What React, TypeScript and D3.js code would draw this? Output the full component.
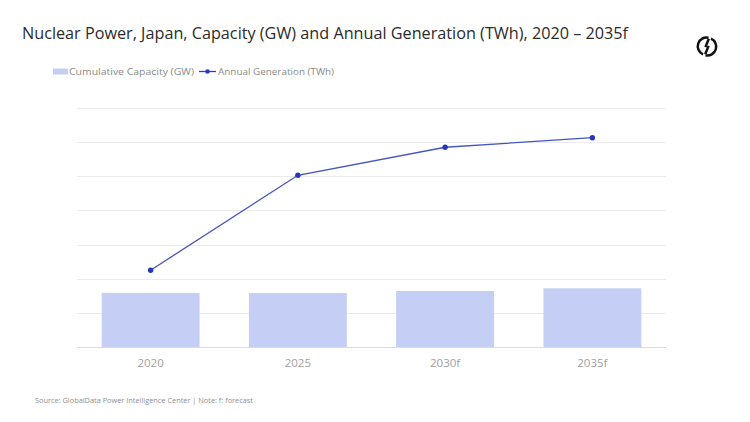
import React, { useEffect, useRef } from 'react';
import * as d3 from 'd3';

// chart data
const categories = ['2020', '2025', '2030f', '2035f'];
const capacityGW = [31.7, 31.6, 32.8, 34.4];
const generationTWh = [45.0, 100.6, 117.0, 122.6];
const yTicks = [0, 20, 40, 60, 80, 100, 120, 140];

const title = 'Nuclear Power, Japan, Capacity (GW) and Annual Generation (TWh), 2020 \u2013 2035f';
const source = 'Source: GlobalData Power Intelligence Center | Note: f: forecast';

function App() {
  const ref = useRef<SVGSVGElement>(null);

  const W = 750, H = 422;
  const m = { left: 77, right: 666, top: 108, bottom: 347 };
  const font = "'Open Sans', 'Noto Sans', sans-serif";

  useEffect(() => {
    if (!ref.current) return;
    const svg = d3.select(ref.current);
    svg.selectAll('*').remove();

    const x = d3.scaleBand<string>()
      .domain(categories)
      .range([m.left, m.right])
      .paddingInner(0.335)
      .paddingOuter(0.1675);

    const y = d3.scaleLinear()
      .domain([0, d3.max(yTicks) as number])
      .range([m.bottom, m.top]);

    // title
    svg.append('text')
      .attr('x', 22).attr('y', 39)
      .attr('font-family', font)
      .attr('font-size', 16)
      .attr('fill', '#2b2b2b')
      .attr('textLength', 606)
      .attr('lengthAdjust', 'spacingAndGlyphs')
      .text(title);

    // logo (two hooks forming a broken circle)
    const r = 8.8;
    const lg = svg.append('g')
      .attr('transform', 'translate(707,46.5)')
      .attr('fill', 'none')
      .attr('stroke', '#111')
      .attr('stroke-width', 2.5)
      .attr('stroke-linecap', 'butt');
    lg.append('path').attr('d', `M1.5,${-r} A${r},${r} 0 0 0 -4,${r * 0.89}`);
    lg.append('path').attr('d', `M1.8,${-r + 1} L-1.6,0.6`);
    lg.append('path').attr('d', `M-1.5,${r} A${r},${r} 0 0 0 4,${-r * 0.89}`);
    lg.append('path').attr('d', `M-1.8,${r - 1} L1.6,-0.6`);

    // legend
    const leg = svg.append('g').attr('font-family', font).attr('font-size', 9).attr('fill', '#8a8a8a');
    leg.append('rect').attr('x', 53).attr('y', 68.5).attr('width', 15).attr('height', 6).attr('fill', '#c5cff5');
    leg.append('text').attr('x', 69).attr('y', 74.5)
      .attr('textLength', 125).attr('lengthAdjust', 'spacingAndGlyphs')
      .text('Cumulative Capacity (GW)');
    leg.append('line').attr('x1', 199).attr('x2', 216).attr('y1', 71.5).attr('y2', 71.5)
      .attr('stroke', '#2b3cc4').attr('stroke-width', 1.3);
    leg.append('circle').attr('cx', 207.5).attr('cy', 71.5).attr('r', 2.3).attr('fill', '#2b3cc4');
    leg.append('text').attr('x', 218).attr('y', 74.5)
      .attr('textLength', 116).attr('lengthAdjust', 'spacingAndGlyphs')
      .text('Annual Generation (TWh)');

    // gridlines
    svg.append('g')
      .selectAll('line')
      .data(yTicks)
      .join('line')
      .attr('x1', m.left).attr('x2', m.right)
      .attr('y1', d => Math.round(y(d)) + 0.5)
      .attr('y2', d => Math.round(y(d)) + 0.5)
      .attr('stroke', d => d === 0 ? '#dcdcdc' : '#ebebeb')
      .attr('stroke-width', 1);

    // bars
    svg.append('g')
      .selectAll('rect')
      .data(capacityGW)
      .join('rect')
      .attr('x', (d, i) => x(categories[i]) as number)
      .attr('width', x.bandwidth())
      .attr('y', d => y(d))
      .attr('height', d => y(0) - y(d))
      .attr('fill', '#c5cff5');

    // line
    const pts: [number, number][] = generationTWh.map((d, i) => [
      (x(categories[i]) as number) + x.bandwidth() / 2, y(d)
    ]);
    svg.append('path')
      .attr('d', d3.line()(pts) as string)
      .attr('fill', 'none')
      .attr('stroke', '#4455c0')
      .attr('stroke-width', 1.3);
    svg.append('g')
      .selectAll('circle')
      .data(pts)
      .join('circle')
      .attr('cx', d => d[0]).attr('cy', d => d[1])
      .attr('r', 2.7)
      .attr('fill', '#2536c0');

    // x axis labels
    svg.append('g')
      .selectAll('text')
      .data(categories)
      .join('text')
      .attr('x', d => (x(d) as number) + x.bandwidth() / 2)
      .attr('y', 367)
      .attr('text-anchor', 'middle')
      .attr('font-family', font)
      .attr('font-size', 11.5)
      .attr('fill', '#a0a0a0')
      .text(d => d);

    // source
    svg.append('text')
      .attr('x', 35).attr('y', 403)
      .attr('font-family', font)
      .attr('font-size', 7.5)
      .attr('fill', '#8f8f8f')
      .attr('textLength', 218)
      .attr('lengthAdjust', 'spacingAndGlyphs')
      .text(source);
  });

  return (
    <svg
      ref={ref}
      width={W}
      height={H}
      style={{ position: 'absolute', left: 0, top: 0, background: '#fff' }}
    />
  );
}

export default App;
